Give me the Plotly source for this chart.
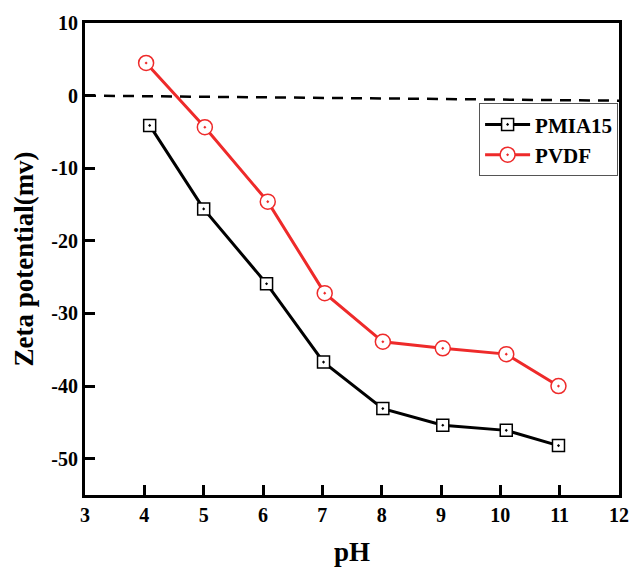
import plotly.graph_objects as go

# pH values and zeta potentials (mV)
ph_pmia = [4.09, 5.0, 6.06, 7.02, 8.02, 9.03, 10.1, 10.98]
zeta_pmia = [-4.1, -15.6, -25.9, -36.7, -43.1, -45.4, -46.1, -48.2]

ph_pvdf = [4.03, 5.02, 6.08, 7.04, 8.02, 9.03, 10.1, 10.98]
zeta_pvdf = [4.5, -4.35, -14.6, -27.2, -33.9, -34.8, -35.6, -40.0]

# zero-potential reference line
ref_x = [3, 12]
ref_y = [0, -0.7]

x_ticks = list(range(3, 13))
y_ticks = [10, 0, -10, -20, -30, -40, -50]
y_tick_text = ["10", "0", "-10", "-20", "-30", "-40", "-50"]

font_family = "Liberation Serif"

fig = go.Figure()

fig.add_trace(go.Scatter(
    x=ref_x, y=ref_y, mode="lines", showlegend=False,
    line=dict(color="black", width=2.5, dash="11px,8px"), hoverinfo="skip",
))

fig.add_trace(go.Scatter(
    x=ph_pmia, y=zeta_pmia, mode="lines+markers", name="PMIA15",
    line=dict(color="black", width=3),
    marker=dict(symbol="square-dot", size=12, color="white",
                line=dict(width=1.5, color="black")),
))

fig.add_trace(go.Scatter(
    x=ph_pvdf, y=zeta_pvdf, mode="lines+markers", name="PVDF",
    line=dict(color="#ee2a2a", width=3),
    marker=dict(symbol="circle-dot", size=15, color="white",
                line=dict(width=1.5, color="#ee2a2a")),
))

axis_common = dict(
    showline=True, linewidth=3, linecolor="black", mirror=True,
    ticks="inside", ticklen=10, tickwidth=3, tickcolor="black",
    showgrid=False, zeroline=False,
    tickfont=dict(family=font_family, size=20, color="black", weight="bold"),
)

fig.update_xaxes(
    range=[3, 12], tickmode="array", tickvals=x_ticks,
    ticktext=[str(v) for v in x_ticks],
    title=dict(text="<b>pH</b>", font=dict(family=font_family, size=27, color="black"),
               standoff=18),
    **axis_common,
)
fig.update_yaxes(
    range=[-55, 10], tickmode="array", tickvals=y_ticks, ticktext=y_tick_text,
    title=dict(text="<b>Zeta potential(mv)</b>",
               font=dict(family=font_family, size=27, color="black"), standoff=10),
    **axis_common,
)

fig.update_layout(
    width=641, height=575,
    margin=dict(l=85, r=12, t=20, b=78),
    plot_bgcolor="white", paper_bgcolor="white",
    legend=dict(
        x=0.738, y=0.83, xanchor="left", yanchor="top",
        bgcolor="white", bordercolor="#555555", borderwidth=1,
        font=dict(family=font_family, size=21, color="black", weight="bold"),
        itemwidth=45, tracegroupgap=2,
    ),
)

fig.write_html("out.html")
